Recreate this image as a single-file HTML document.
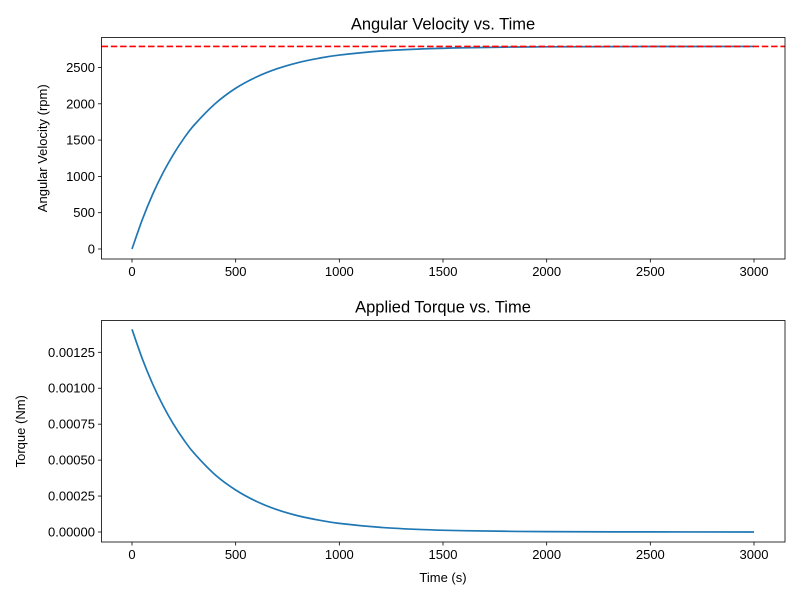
<!DOCTYPE html>
<html><head><meta charset="utf-8"><style>
body{margin:0;background:#fff;font-family:"Liberation Sans","DejaVu Sans",sans-serif}
svg text{font-family:"Liberation Sans","DejaVu Sans",sans-serif}
</style></head><body>
<svg id="c" width="800" height="600"></svg>
<script>
const times=[0,50,100,150,200,250,300,400,500,600,700,800,900,1000,1200,1400,1600,1800,2000,2500,3000];
const velocity=[0,407,756,1052,1305,1523,1708,1999,2214,2369,2483,2567,2627,2671,2727,2756,2772,2781,2785,2789,2790];
const torque=[0.00141,0.001204,0.001028,0.000878,0.000750,0.000641,0.000547,0.000399,0.000292,0.000213,0.000155,0.000113,0.000083,0.000060,0.000032,0.000017,0.000009,0.000005,0.0000025,0.0000006,0.0000001];
const steadyState=[2790];
const xTicks=[0,500,1000,1500,2000,2500,3000];
const vTicks=[0,500,1000,1500,2000,2500];
const tTicks=[0,0.00025,0.0005,0.00075,0.001,0.00125];
const tTickLabels=["0.00000","0.00025","0.00050","0.00075","0.00100","0.00125"];
const NS="http://www.w3.org/2000/svg";
const svg=document.getElementById('c');
function mk(tag,attrs,parent){const e=document.createElementNS(NS,tag);for(const k in attrs)e.setAttribute(k,attrs[k]);(parent||svg).appendChild(e);return e;}
const xs=t=>132+t*(622/3000);
function smooth(pts){
  let d='M'+pts[0][0].toFixed(2)+','+pts[0][1].toFixed(2);
  for(let i=0;i<pts.length-1;i++){
    const p0=pts[Math.max(0,i-1)],p1=pts[i],p2=pts[i+1],p3=pts[Math.min(pts.length-1,i+2)];
    const c1=[p1[0]+(p2[0]-p0[0])/6,p1[1]+(p2[1]-p0[1])/6];
    const c2=[p2[0]-(p3[0]-p1[0])/6,p2[1]-(p3[1]-p1[1])/6];
    d+=` C${c1[0].toFixed(2)},${c1[1].toFixed(2)} ${c2[0].toFixed(2)},${c2[1].toFixed(2)} ${p2[0].toFixed(2)},${p2[1].toFixed(2)}`;
  }
  return d;
}
function panel(cfg){
  const g=mk('g',{});
  
  
  const {top,bottom,ys}=cfg;
  cfg.yt.forEach((v,i)=>{
    const y=ys(v);
    const tk=mk('line',{x1:101.5,x2:98,y1:y,y2:y,stroke:'#000','stroke-width':0.8},g);
    
    const tx=mk('text',{x:95,y:y+4.5,'text-anchor':'end','font-size':13},g);
    tx.textContent=cfg.yl[i];
    
  });
  xTicks.forEach(v=>{
    const x=xs(v);
    const tk=mk('line',{x1:x,x2:x,y1:bottom,y2:bottom+3.5,stroke:'#000','stroke-width':0.8},g);
    
    const tx=mk('text',{x:x,y:bottom+17,'text-anchor':'middle','font-size':13},g);
    tx.textContent=v;
    
  });
  const pts=times.map((t,i)=>[xs(t),ys(cfg.vals[i])]);
  const p=mk('path',{d:smooth(pts),fill:'none',stroke:'#1f77b4','stroke-width':1.7,'stroke-linejoin':'round'},g);
  
  if(cfg.ref){
    const y=ys(cfg.ref);
    const r=mk('line',{x1:101.5,x2:785,y1:y,y2:y,stroke:'red','stroke-width':1.7,'stroke-dasharray':'6.5,2.8'},g);
    
  }
  const fr=mk('rect',{x:101.5,y:top,width:683.5,height:bottom-top,fill:'none',stroke:'#000','stroke-width':0.8},g);
  
  const ti=mk('text',{x:443,y:top-8,'text-anchor':'middle','font-size':16.5},g);
  ti.textContent=cfg.title;
  const yl=mk('text',{x:0,y:0,'text-anchor':'middle','font-size':13,transform:`translate(${cfg.ylx},${(top+bottom)/2}) rotate(-90)`},g);
  yl.textContent=cfg.ylabel;
}
panel({name:'velocity-panel',top:37.5,bottom:259,ys:v=>249-v*(181.5/2500),yt:vTicks,yl:vTicks.map(String),vals:velocity,lineName:'velocity-line',ref:steadyState[0],title:'Angular Velocity vs. Time',ylabel:'Angular Velocity (rpm)',ylx:47});
panel({name:'torque-panel',top:320.5,bottom:542,ys:v=>532-v*(179.7/0.00125),yt:tTicks,yl:tTickLabels,vals:torque,lineName:'torque-line',title:'Applied Torque vs. Time',ylabel:'Torque (Nm)',ylx:25});
const xl=mk('text',{x:443,y:582,'text-anchor':'middle','font-size':13});
xl.textContent='Time (s)';


</script>
</body></html>
